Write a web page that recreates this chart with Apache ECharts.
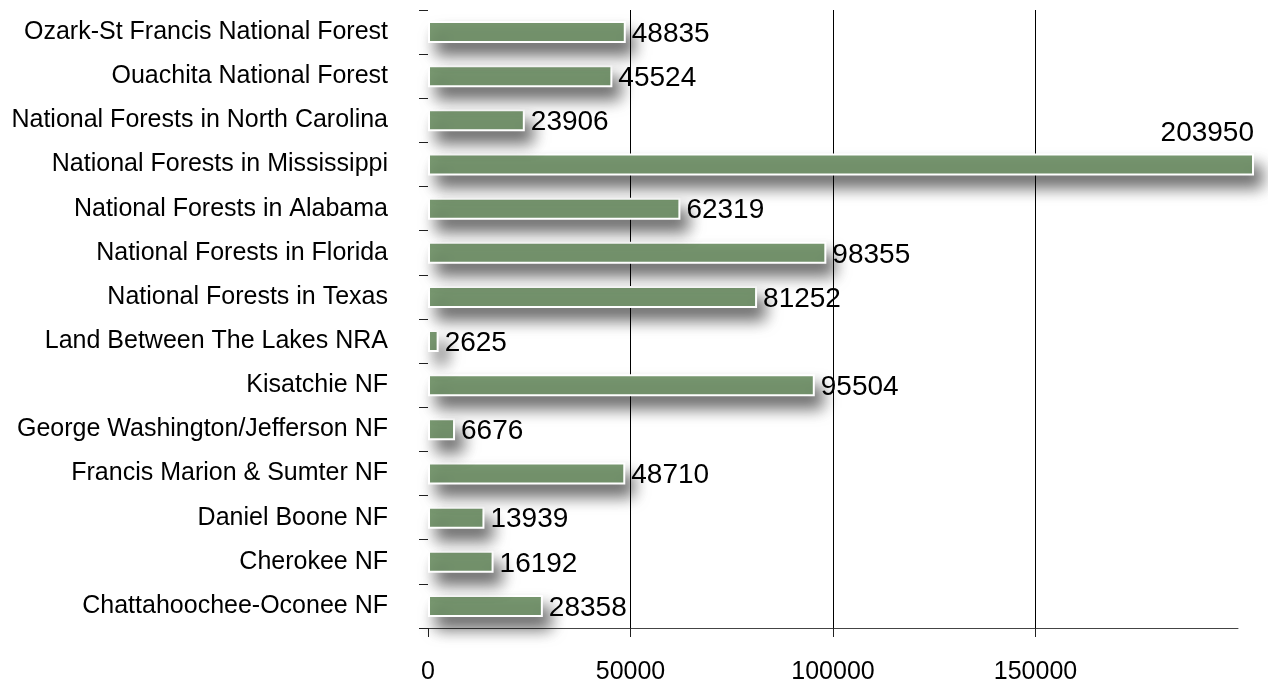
<!DOCTYPE html>
<html>
<head>
<meta charset="utf-8">
<style>
  html, body { margin: 0; padding: 0; background: #fff; }
  #chart { width: 1268px; height: 685px; }
</style>
<script src="https://cdn.jsdelivr.net/npm/echarts@6/dist/echarts.min.js"></script>
</head>
<body>
<div id="chart"></div>
<script>
// categories listed bottom to top
var forests = [
  'Chattahoochee-Oconee NF',
  'Cherokee NF',
  'Daniel Boone NF',
  'Francis Marion & Sumter NF',
  'George Washington/Jefferson NF',
  'Kisatchie NF',
  'Land Between The Lakes NRA',
  'National Forests in Texas',
  'National Forests in Florida',
  'National Forests in Alabama',
  'National Forests in Mississippi',
  'National Forests in North Carolina',
  'Ouachita National Forest',
  'Ozark-St Francis National Forest'
];
var values = [28358, 16192, 13939, 48710, 6676, 95504, 2625, 81252, 98355, 62319, 203950, 23906, 45524, 48835];
var xTicks = [0, 50000, 100000, 150000, 200000];

var font = '"Liberation Sans", Arial, sans-serif';

var barData = values.map(function (v) {
  if (v > xTicks[xTicks.length - 1]) {
    // the one bar running past the axis gets its label above the end
    return {
      value: v,
      label: { position: ['100%', -8], align: 'right', verticalAlign: 'bottom' }
    };
  }
  return v;
});

var chart = echarts.init(document.getElementById('chart'));
chart.setOption({
  animation: false,
  textStyle: { fontFamily: font },
  grid: { left: 428, right: 30, top: 10, bottom: 57, containLabel: false },
  xAxis: {
    type: 'value',
    min: xTicks[0],
    max: xTicks[xTicks.length - 1],
    interval: xTicks[1] - xTicks[0],
    axisLine: { show: true, lineStyle: { color: '#444', width: 1 } },
    axisTick: { show: true, length: 9, lineStyle: { color: '#222' } },
    axisLabel: {
      fontSize: 25, color: '#000', fontFamily: font, margin: 32,
      showMaxLabel: false,
      formatter: function (v) { return String(v); }
    },
    splitLine: {
      show: true, showMinLine: false, showMaxLine: false,
      lineStyle: { color: '#000', width: 1 }
    }
  },
  yAxis: {
    type: 'category',
    data: forests,
    axisLine: { show: false },
    axisTick: { show: true, length: 9, lineStyle: { color: '#222' } },
    axisLabel: { fontSize: 25, color: '#000', fontFamily: font, margin: 40 },
    splitLine: { show: false }
  },
  series: [{
    type: 'bar',
    data: barData,
    barWidth: 22,
    clip: false,
    itemStyle: {
      color: '#7a9a72',
      borderColor: '#fff',
      borderWidth: 2,
      shadowColor: 'rgba(0,0,0,0.6)',
      shadowBlur: 16,
      shadowOffsetX: 8,
      shadowOffsetY: 12
    },
    label: {
      show: true,
      position: 'right',
      distance: 6,
      fontSize: 28,
      color: '#000',
      fontFamily: font,
      offset: [0, 2]
    }
  }]
});
</script>
</body>
</html>
